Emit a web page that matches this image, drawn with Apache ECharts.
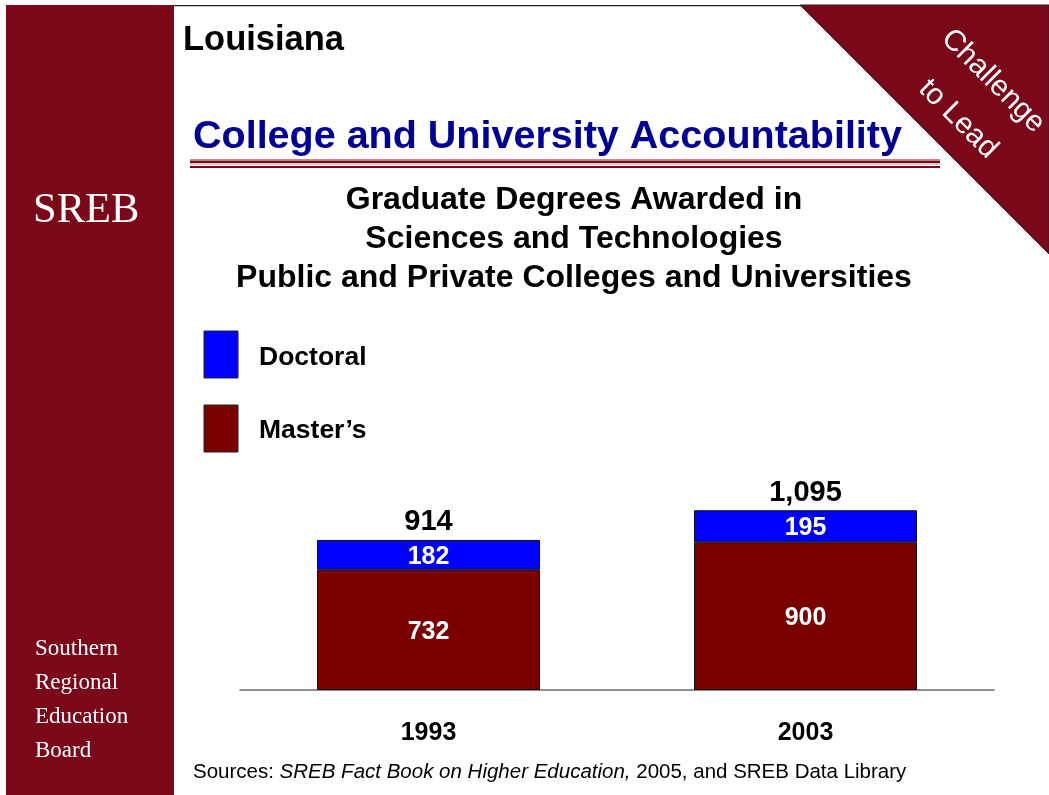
<!DOCTYPE html>
<html>
<head>
<meta charset="utf-8">
<script src="https://cdn.jsdelivr.net/npm/echarts@6/dist/echarts.min.js"></script>
<style>
  html, body { margin: 0; padding: 0; background: #ffffff; }
  #chart { width: 1049px; height: 795px; }
</style>
</head>
<body>
<div id="chart"></div>
<script>
// Graduate degrees awarded in sciences and technologies, Louisiana
const years = ['1993', '2003'];
const masters = [732, 900];
const doctoral = [182, 195];
const totals = years.map((_, i) => masters[i] + doctoral[i]);

const MAROON = '#7a0818';
const SANS = '"Liberation Sans", Arial, sans-serif';
const SERIF = '"Liberation Serif", "Times New Roman", serif';

const chart = echarts.init(document.getElementById('chart'));

const fmtNum = v => v.toLocaleString('en-US');

chart.setOption({
  animation: false,
  backgroundColor: '#ffffff',
  grid: { left: 240, right: 55, top: 493, bottom: 105 },
  xAxis: {
    type: 'category',
    data: years,
    axisLine: { lineStyle: { color: '#6a6a6a', width: 1.5 } },
    axisTick: { show: false },
    axisLabel: {
      margin: 31,
      color: '#000',
      fontFamily: SANS,
      fontWeight: 'bold',
      fontSize: 25
    }
  },
  yAxis: {
    type: 'value',
    min: 0,
    max: 1200,
    show: false,
    splitLine: { show: false }
  },
  series: [
    {
      name: "Master's",
      type: 'bar',
      stack: 'deg',
      barWidth: 223,
      data: masters,
      itemStyle: { color: '#7b0000', borderColor: '#111', borderWidth: 1 },
      label: {
        show: true, position: 'inside', offset: [0, 2], color: '#fff',
        fontFamily: SANS, fontWeight: 'bold', fontSize: 25,
        formatter: p => fmtNum(p.value)
      }
    },
    {
      name: 'Doctoral',
      type: 'bar',
      stack: 'deg',
      barWidth: 223,
      data: doctoral,
      itemStyle: { color: '#0000ff', borderColor: '#111', borderWidth: 1 },
      label: {
        show: true, position: 'inside', offset: [0, 2], color: '#fff',
        fontFamily: SANS, fontWeight: 'bold', fontSize: 25,
        formatter: p => fmtNum(p.value)
      }
    },
    {
      name: 'Total',
      type: 'scatter',
      data: totals,
      symbolSize: 0,
      silent: true,
      itemStyle: { opacity: 1, color: '#000' },
      label: {
        show: true, position: 'top', distance: 3, color: '#000',
        fontFamily: SANS, fontWeight: 'bold', fontSize: 29,
        formatter: p => fmtNum(p.value)
      }
    }
  ],
  graphic: [
    // left sidebar
    { type: 'rect', shape: { x: 6, y: 5, width: 168, height: 790 }, style: { fill: MAROON }, z: 1 },
    // top rule
    { type: 'rect', shape: { x: 174, y: 5, width: 640, height: 1.2 }, style: { fill: '#222' }, z: 1 },
    // corner triangle
    { type: 'polygon', shape: { points: [[800, 5], [1049, 5], [1049, 254]] },
      style: { fill: MAROON, stroke: '#222', lineWidth: 1 }, z: 1 },
    { type: 'text', x: 993, y: 81, rotation: -Math.PI / 4, z: 5,
      style: { text: 'Challenge', fill: '#fff', font: '29.5px ' + SANS, align: 'center', verticalAlign: 'middle' } },
    { type: 'text', x: 958, y: 119, rotation: -Math.PI / 4, z: 5,
      style: { text: 'to Lead', fill: '#fff', font: '29.5px ' + SANS, align: 'center', verticalAlign: 'middle' } },
    // sidebar texts
    { type: 'text', x: 33, y: 211, z: 5,
      style: { text: 'SREB', fill: '#fff', font: '42.5px ' + SERIF, verticalAlign: 'middle' } },
    { type: 'text', x: 35, y: 649, z: 5,
      style: { text: 'Southern', fill: '#fff', font: '23px ' + SERIF, verticalAlign: 'middle' } },
    { type: 'text', x: 35, y: 683, z: 5,
      style: { text: 'Regional', fill: '#fff', font: '23px ' + SERIF, verticalAlign: 'middle' } },
    { type: 'text', x: 35, y: 717, z: 5,
      style: { text: 'Education', fill: '#fff', font: '23px ' + SERIF, verticalAlign: 'middle' } },
    { type: 'text', x: 35, y: 751, z: 5,
      style: { text: 'Board', fill: '#fff', font: '23px ' + SERIF, verticalAlign: 'middle' } },
    // headings
    { type: 'text', x: 183, y: 40, z: 5,
      style: { text: 'Louisiana', fill: '#000', font: 'bold 34.5px ' + SANS, verticalAlign: 'middle' } },
    { type: 'text', x: 193, y: 137, z: 5,
      style: { text: 'College and University Accountability', fill: '#000099', font: 'bold 39.5px ' + SANS, verticalAlign: 'middle' } },
    // double rule under heading
    { type: 'rect', shape: { x: 190, y: 159, width: 750, height: 1 }, style: { fill: '#c58a90' }, z: 2 },
    { type: 'rect', shape: { x: 190, y: 160.5, width: 750, height: 2.5 }, style: { fill: MAROON }, z: 2 },
    { type: 'rect', shape: { x: 190, y: 163.5, width: 750, height: 1 }, style: { fill: '#c58a90' }, z: 2 },
    { type: 'rect', shape: { x: 190, y: 166, width: 750, height: 2 }, style: { fill: MAROON }, z: 2 },
    // chart title
    { type: 'text', x: 574, y: 200, z: 5,
      style: { text: 'Graduate Degrees Awarded in', fill: '#000', font: 'bold 32px ' + SANS, align: 'center', verticalAlign: 'middle' } },
    { type: 'text', x: 574, y: 239, z: 5,
      style: { text: 'Sciences and Technologies', fill: '#000', font: 'bold 32px ' + SANS, align: 'center', verticalAlign: 'middle' } },
    { type: 'text', x: 574, y: 278, z: 5,
      style: { text: 'Public and Private Colleges and Universities', fill: '#000', font: 'bold 32px ' + SANS, align: 'center', verticalAlign: 'middle' } },
    // legend
    { type: 'rect', shape: { x: 204, y: 331, width: 34, height: 47 }, style: { fill: '#0000ff', stroke: '#222', lineWidth: 1 }, z: 5 },
    { type: 'text', x: 259, y: 358, z: 5,
      style: { text: 'Doctoral', fill: '#000', font: 'bold 26.5px ' + SANS, verticalAlign: 'middle' } },
    { type: 'rect', shape: { x: 204, y: 405, width: 34, height: 47 }, style: { fill: '#7b0000', stroke: '#222', lineWidth: 1 }, z: 5 },
    { type: 'text', x: 259, y: 431, z: 5,
      style: { text: 'Master\u2019s', fill: '#000', font: 'bold 26.5px ' + SANS, verticalAlign: 'middle' } },
    // source line
    { type: 'text', x: 193, y: 772, z: 5,
      style: {
        text: '{n|Sources: }{i|SREB Fact Book on Higher Education,}{n| 2005, and SREB Data Library}',
        verticalAlign: 'middle',
        rich: {
          n: { fill: '#000', font: '20.5px ' + SANS },
          i: { fill: '#000', font: 'italic 20.5px ' + SANS }
        }
      } }
  ]
});
</script>
</body>
</html>
